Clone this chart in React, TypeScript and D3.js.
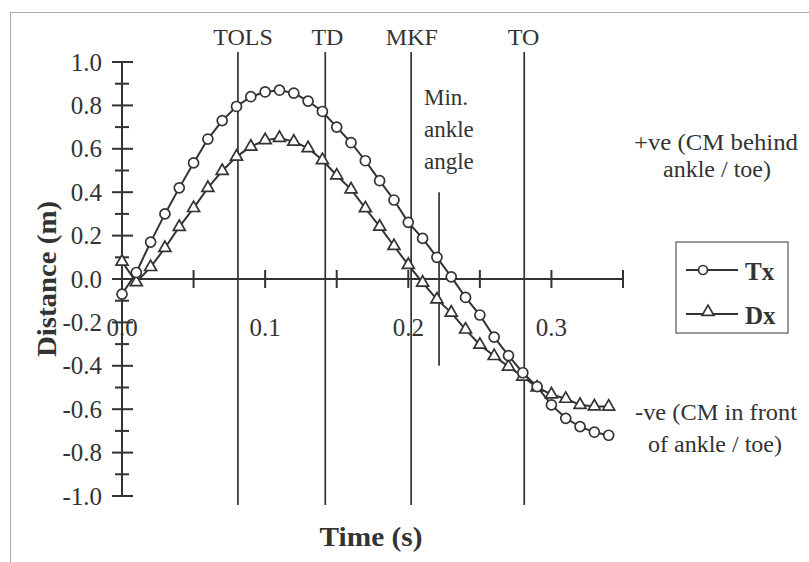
import React from "react";
import * as d3 from "d3";

const times = [0, 0.01, 0.02, 0.03, 0.04, 0.05, 0.06, 0.07, 0.08, 0.09, 0.1, 0.11, 0.12, 0.13, 0.14, 0.15, 0.16, 0.17, 0.18, 0.19, 0.2, 0.21, 0.22, 0.23, 0.24, 0.25, 0.26, 0.27, 0.28, 0.29, 0.3, 0.31, 0.32, 0.33, 0.34];
const txValues = [-0.07, 0.03, 0.17, 0.3, 0.42, 0.535, 0.645, 0.73, 0.795, 0.84, 0.862, 0.87, 0.857, 0.82, 0.772, 0.7, 0.628, 0.545, 0.453, 0.364, 0.261, 0.187, 0.1, 0.01, -0.085, -0.166, -0.268, -0.353, -0.432, -0.496, -0.58, -0.642, -0.68, -0.706, -0.72];
const dxValues = [0.08, -0.015, 0.055, 0.143, 0.24, 0.327, 0.42, 0.498, 0.564, 0.61, 0.64, 0.65, 0.633, 0.603, 0.548, 0.477, 0.413, 0.326, 0.241, 0.152, 0.065, -0.017, -0.094, -0.155, -0.233, -0.303, -0.355, -0.404, -0.45, -0.5, -0.532, -0.552, -0.58, -0.587, -0.588];

const yMajorTicks = [-1.0, -0.8, -0.6, -0.4, -0.2, 0.0, 0.2, 0.4, 0.6, 0.8, 1.0];
const yMinorTicks = [-0.9, -0.7, -0.5, -0.3, -0.1, 0.1, 0.3, 0.5, 0.7, 0.9];
const yTickLabels = ["-1.0", "-0.8", "-0.6", "-0.4", "-0.2", "0.0", "0.2", "0.4", "0.6", "0.8", "1.0"];
const xTicks = [0.05, 0.1, 0.15, 0.2, 0.25, 0.3, 0.35];
const xLabelTicks = [0.0, 0.1, 0.2, 0.3];
const xTickLabels = ["0.0", "0.1", "0.2", "0.3"];

const eventNames = ["TOLS", "TD", "MKF", "TO"];
const eventTimes = [0.081, 0.142, 0.202, 0.281];
const eventLabelTimes = [0.0845, 0.1435, 0.2025, 0.2805];
const minAnkleTime = 0.2215;
const minAnkleRange = [0.4, -0.4];
const minAnkleLabel = ["Min.", "ankle", "angle"];

const FONT = "'Liberation Serif', 'Times New Roman', serif";
const INK = "#333";

export default function App() {
  const x = d3.scaleLinear().domain([0, 0.35]).range([122, 623]);
  const y = d3.scaleLinear().domain([-1, 1]).range([496, 62]);

  const line = d3
    .line<number>()
    .x((_, i) => x(times[i]))
    .y((d) => y(d));

  const tri = d3.symbol().type(d3.symbolTriangle).size(62)();
  const circleR = 5;

  return (
    <svg
      width={809}
      height={562}
      style={{ position: "absolute", left: 0, top: 0, background: "#fff" }}
      fontFamily={FONT}
    >
      <rect x={0} y={0} width={809} height={562} fill="#fff" />
      {/* frame */}
      <line x1={10} y1={12.5} x2={809} y2={12.5} stroke="#aaa" strokeWidth={1} />
      <line x1={10.5} y1={12} x2={10.5} y2={562} stroke="#aaa" strokeWidth={1} />

      {/* event lines */}
      {eventTimes.map((t, i) => (
        <line key={"ev" + i} x1={x(t)} x2={x(t)} y1={y(1) - 10} y2={y(-1) + 9} stroke={INK} strokeWidth={1.7} />
      ))}
      {eventNames.map((n, i) => (
        <text key={"evl" + i} x={x(eventLabelTimes[i])} y={45} textAnchor="middle" fontSize={24} fill={INK}>
          {n}
        </text>
      ))}
      <line x1={x(minAnkleTime)} x2={x(minAnkleTime)} y1={y(minAnkleRange[0])} y2={y(minAnkleRange[1])} stroke={INK} strokeWidth={1.7} />
      {minAnkleLabel.map((s, i) => (
        <text key={"ma" + i} x={424} y={105 + i * 32} fontSize={23} fill={INK}>
          {s}
        </text>
      ))}

      {/* y axis */}
      <line x1={x(0)} x2={x(0)} y1={y(1)} y2={y(-1)} stroke={INK} strokeWidth={2} />
      {yMajorTicks.map((v, i) => (
        <g key={"ym" + i}>
          <line x1={x(0) - 10} x2={x(0) + 11} y1={y(v)} y2={y(v)} stroke={INK} strokeWidth={2} />
          <text x={102} y={y(v)} dy="0.34em" textAnchor="end" fontSize={25} fill={INK}>
            {yTickLabels[i]}
          </text>
        </g>
      ))}
      {yMinorTicks.map((v, i) => (
        <line key={"yn" + i} x1={x(0) - 7} x2={x(0) + 7} y1={y(v)} y2={y(v)} stroke={INK} strokeWidth={2} />
      ))}

      {/* x axis */}
      <line x1={x(0)} x2={x(0.35)} y1={y(0)} y2={y(0)} stroke={INK} strokeWidth={2} />
      {xTicks.map((t, i) => (
        <line key={"xt" + i} x1={x(t)} x2={x(t)} y1={y(0) - 9} y2={y(0) + 9} stroke={INK} strokeWidth={2} />
      ))}
      {xLabelTicks.map((t, i) => (
        <text key={"xl" + i} x={x(t)} y={336} textAnchor="middle" fontSize={25} fill={INK}>
          {xTickLabels[i]}
        </text>
      ))}

      {/* axis titles */}
      <text
        transform={`translate(56,${y(0)}) rotate(-90)`}
        textAnchor="middle"
        fontSize={27}
        fontWeight="bold"
        fill={INK}
        textLength={156}
        lengthAdjust="spacingAndGlyphs"
      >
        Distance (m)
      </text>
      <text x={371} y={546} textAnchor="middle" fontSize={27} fontWeight="bold" fill={INK} textLength={103} lengthAdjust="spacingAndGlyphs">
        Time (s)
      </text>

      {/* series */}
      <path d={line(txValues) || ""} fill="none" stroke={INK} strokeWidth={2} />
      <path d={line(dxValues) || ""} fill="none" stroke={INK} strokeWidth={2} />
      {dxValues.map((v, i) => (
        <path key={"dm" + i} d={tri || ""} transform={`translate(${x(times[i])},${y(v)})`} fill="#fff" stroke={INK} strokeWidth={1.7} />
      ))}
      {txValues.map((v, i) => (
        <circle key={"tm" + i} cx={x(times[i])} cy={y(v)} r={circleR} fill="#fff" stroke={INK} strokeWidth={1.7} />
      ))}

      {/* side notes */}
      <text x={716} y={150} textAnchor="middle" fontSize={24} fill={INK} textLength={164} lengthAdjust="spacingAndGlyphs">+ve (CM behind</text>
      <text x={717} y={177} textAnchor="middle" fontSize={24} fill={INK}>ankle / toe)</text>
      <text x={716} y={420} textAnchor="middle" fontSize={24} fill={INK} textLength={162} lengthAdjust="spacingAndGlyphs">-ve (CM in front</text>
      <text x={715} y={452} textAnchor="middle" fontSize={24} fill={INK}>of ankle / toe)</text>

      {/* legend */}
      <rect x={676} y={242} width={112} height={91} fill="#fff" stroke="#777" strokeWidth={1.5} />
      <line x1={686} x2={738} y1={270} y2={270} stroke={INK} strokeWidth={2} />
      <circle cx={703} cy={270} r={4.5} fill="#fff" stroke={INK} strokeWidth={1.7} />
      <text x={745} y={280} fontSize={25} fontWeight="bold" fill={INK}>Tx</text>
      <line x1={686} x2={738} y1={314} y2={314} stroke={INK} strokeWidth={2} />
      <path d={tri || ""} transform="translate(708,312)" fill="#fff" stroke={INK} strokeWidth={1.7} />
      <text x={745} y={324} fontSize={25} fontWeight="bold" fill={INK}>Dx</text>
    </svg>
  );
}
